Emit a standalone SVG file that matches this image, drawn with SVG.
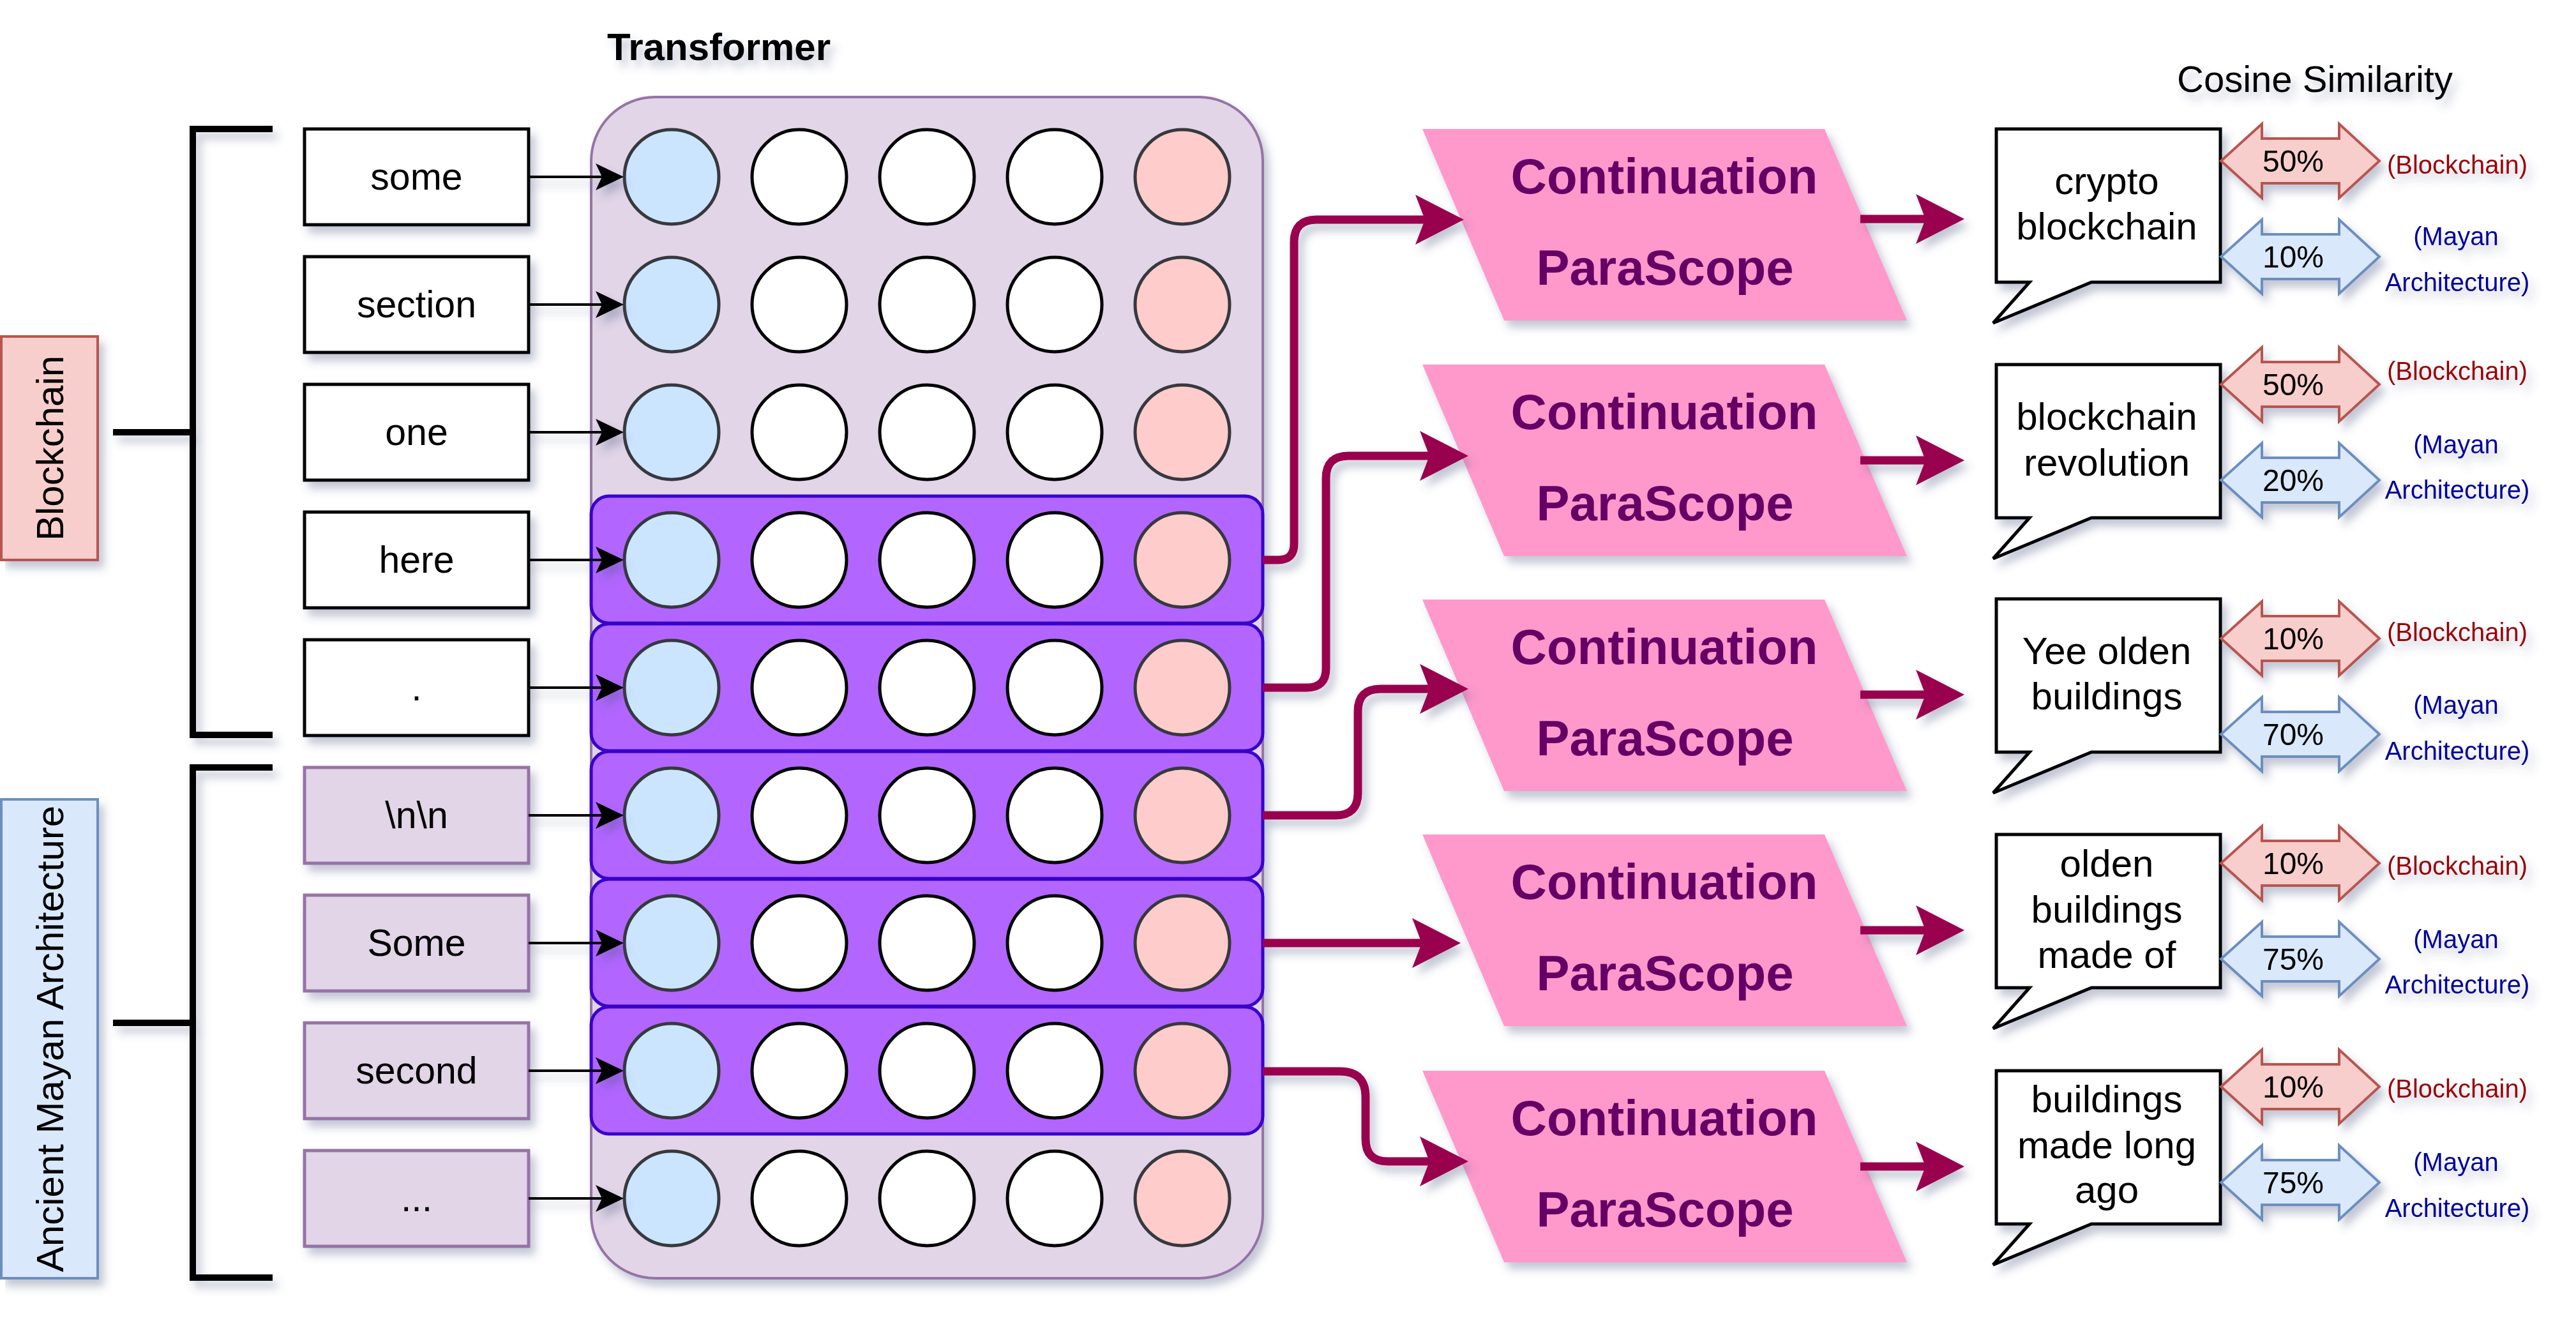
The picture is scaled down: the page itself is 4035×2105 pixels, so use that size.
<svg xmlns="http://www.w3.org/2000/svg" width="4035" height="2105" viewBox="0 0 4035 2105">
<style>
text{font-family:"Liberation Sans",Arial,Helvetica,sans-serif;}
.tok{font-size:59px;text-anchor:middle;fill:#000;}
.tw{fill:#fff;stroke:#000;stroke-width:5;}
.tl{fill:#e1d5e7;stroke:#9673a6;stroke-width:5;}
.brk{fill:none;stroke:#000;stroke-width:10;}
.cb{fill:#cce5ff;stroke:#36393d;stroke-width:5;}
.cw{fill:#fff;stroke:#000;stroke-width:5;}
.cr{fill:#ffcccc;stroke:#36393d;stroke-width:5;}
.prow{fill:#b266ff;stroke:#3700cc;stroke-width:5;}
.para{fill:#ff99cc;}
.pt{font-size:78px;font-weight:bold;fill:#660066;text-anchor:middle;}
.co{fill:#fff;stroke:#000;stroke-width:5;}
.ct{font-size:60px;text-anchor:middle;fill:#000;}
.dp{fill:#f8cecc;stroke:#b85450;stroke-width:4;}
.db{fill:#dae8fc;stroke:#6c8ebf;stroke-width:4;}
.pc{font-size:48px;text-anchor:middle;fill:#000;}
.lb{font-size:40px;text-anchor:middle;fill:#990000;}
.lm{font-size:40px;text-anchor:middle;fill:#000099;}
.mag{fill:none;stroke:#99004d;stroke-width:13;}
.blk{fill:none;stroke:#000;stroke-width:4;}
</style>
<defs>
<filter id="sh" filterUnits="userSpaceOnUse" x="0" y="0" width="4035" height="2105">
<feGaussianBlur in="SourceAlpha" stdDeviation="7"/>
<feOffset dx="8" dy="11" result="b"/>
<feFlood flood-color="#4a5680" flood-opacity="0.33"/>
<feComposite in2="b" operator="in"/>
<feMerge><feMergeNode/><feMergeNode in="SourceGraphic"/></feMerge>
</filter>
<marker id="am" markerUnits="userSpaceOnUse" markerWidth="80" markerHeight="80" refX="15" refY="0" orient="auto" overflow="visible"><path d="M0,-39 L76,0 L0,39 L15,0 Z" fill="#99004d"/></marker>
<marker id="ab" markerUnits="userSpaceOnUse" markerWidth="50" markerHeight="50" refX="10" refY="0" orient="auto" overflow="visible"><path d="M0,-21 L44,0 L0,21 L10,0 Z" fill="#000"/></marker>
<path id="dbl" d="M0,0 L64,-58 L64,-35 L185,-35 L185,-58 L248,0 L185,58 L185,35 L64,35 L64,58 Z"/>
</defs>
<rect width="4035" height="2105" fill="#fff"/>

<g filter="url(#sh)">
<text id="title-transformer" x="1126" y="94" style="font-size:60px;font-weight:bold;text-anchor:middle;">Transformer</text>
<text id="title-cosine" x="3626" y="144" style="font-size:58px;text-anchor:middle;">Cosine Similarity</text>

<g id="label-blockchain"><rect x="2" y="527" width="151" height="350" fill="#f8cecc" stroke="#b85450" stroke-width="4"/><text transform="translate(98.5,702) rotate(-90)" style="font-size:60px;text-anchor:middle;">Blockchain</text></g>
<g id="label-mayan"><rect x="2" y="1252" width="151" height="750" fill="#dae8fc" stroke="#6c8ebf" stroke-width="4"/><text transform="translate(98.5,1627) rotate(-90)" style="font-size:60px;text-anchor:middle;">Ancient Mayan Architecture</text></g>

<g id="bracket-blockchain"><path class="brk" d="M427,202 H302 V1151 H427 M177,677 H302"/></g>
<g id="bracket-mayan"><path class="brk" d="M427,1202 H302 V2001 H427 M177,1602 H302"/></g>

<g id="tok-some"><rect class="tw" x="477" y="202" width="351" height="150"/><text class="tok" x="652.5" y="297">some</text></g>
<g id="tok-section"><rect class="tw" x="477" y="402" width="351" height="150"/><text class="tok" x="652.5" y="497">section</text></g>
<g id="tok-one"><rect class="tw" x="477" y="602" width="351" height="150"/><text class="tok" x="652.5" y="697">one</text></g>
<g id="tok-here"><rect class="tw" x="477" y="802" width="351" height="150"/><text class="tok" x="652.5" y="897">here</text></g>
<g id="tok-dot"><rect class="tw" x="477" y="1002" width="351" height="150"/><text class="tok" x="652.5" y="1097">.</text></g>
<g id="tok-nn"><rect class="tl" x="477" y="1202" width="351" height="150"/><text class="tok" x="652.5" y="1297">\n\n</text></g>
<g id="tok-Some"><rect class="tl" x="477" y="1402" width="351" height="150"/><text class="tok" x="652.5" y="1497">Some</text></g>
<g id="tok-second"><rect class="tl" x="477" y="1602" width="351" height="150"/><text class="tok" x="652.5" y="1697">second</text></g>
<g id="tok-ellipsis"><rect class="tl" x="477" y="1802" width="351" height="150"/><text class="tok" x="652.5" y="1897">...</text></g>

<g id="transformer"><rect x="926" y="152" width="1052" height="1850" rx="100" ry="100" fill="#e1d5e7" stroke="#9673a6" stroke-width="4"/></g>
<g id="sel-rows">
<rect id="row-here" class="prow" x="926" y="777" width="1052" height="199" rx="28"/>
<rect id="row-dot" class="prow" x="926" y="977" width="1052" height="199" rx="28"/>
<rect id="row-nn" class="prow" x="926" y="1177" width="1052" height="199" rx="28"/>
<rect id="row-Some" class="prow" x="926" y="1377" width="1052" height="199" rx="28"/>
<rect id="row-second" class="prow" x="926" y="1577" width="1052" height="199" rx="28"/>
</g>
</g>

<g id="neurons">
<g id="r0"><circle class="cb" cx="1052" cy="277" r="74"/><circle class="cw" cx="1252" cy="277" r="74"/><circle class="cw" cx="1452" cy="277" r="74"/><circle class="cw" cx="1652" cy="277" r="74"/><circle class="cr" cx="1852" cy="277" r="74"/></g>
<g id="r1"><circle class="cb" cx="1052" cy="477" r="74"/><circle class="cw" cx="1252" cy="477" r="74"/><circle class="cw" cx="1452" cy="477" r="74"/><circle class="cw" cx="1652" cy="477" r="74"/><circle class="cr" cx="1852" cy="477" r="74"/></g>
<g id="r2"><circle class="cb" cx="1052" cy="677" r="74"/><circle class="cw" cx="1252" cy="677" r="74"/><circle class="cw" cx="1452" cy="677" r="74"/><circle class="cw" cx="1652" cy="677" r="74"/><circle class="cr" cx="1852" cy="677" r="74"/></g>
<g id="r3"><circle class="cb" cx="1052" cy="877" r="74"/><circle class="cw" cx="1252" cy="877" r="74"/><circle class="cw" cx="1452" cy="877" r="74"/><circle class="cw" cx="1652" cy="877" r="74"/><circle class="cr" cx="1852" cy="877" r="74"/></g>
<g id="r4"><circle class="cb" cx="1052" cy="1077" r="74"/><circle class="cw" cx="1252" cy="1077" r="74"/><circle class="cw" cx="1452" cy="1077" r="74"/><circle class="cw" cx="1652" cy="1077" r="74"/><circle class="cr" cx="1852" cy="1077" r="74"/></g>
<g id="r5"><circle class="cb" cx="1052" cy="1277" r="74"/><circle class="cw" cx="1252" cy="1277" r="74"/><circle class="cw" cx="1452" cy="1277" r="74"/><circle class="cw" cx="1652" cy="1277" r="74"/><circle class="cr" cx="1852" cy="1277" r="74"/></g>
<g id="r6"><circle class="cb" cx="1052" cy="1477" r="74"/><circle class="cw" cx="1252" cy="1477" r="74"/><circle class="cw" cx="1452" cy="1477" r="74"/><circle class="cw" cx="1652" cy="1477" r="74"/><circle class="cr" cx="1852" cy="1477" r="74"/></g>
<g id="r7"><circle class="cb" cx="1052" cy="1677" r="74"/><circle class="cw" cx="1252" cy="1677" r="74"/><circle class="cw" cx="1452" cy="1677" r="74"/><circle class="cw" cx="1652" cy="1677" r="74"/><circle class="cr" cx="1852" cy="1677" r="74"/></g>
<g id="r8"><circle class="cb" cx="1052" cy="1877" r="74"/><circle class="cw" cx="1252" cy="1877" r="74"/><circle class="cw" cx="1452" cy="1877" r="74"/><circle class="cw" cx="1652" cy="1877" r="74"/><circle class="cr" cx="1852" cy="1877" r="74"/></g>
</g>

<g filter="url(#sh)">
<g id="ps1"><polygon class="para" points="2228,202 2858,202 2987,502 2356,502"/><text class="pt" x="2607" y="303">Continuation</text><text class="pt" x="2608" y="446">ParaScope</text></g>
<g id="ps2"><polygon class="para" points="2228,571 2858,571 2987,871 2356,871"/><text class="pt" x="2607" y="672">Continuation</text><text class="pt" x="2608" y="815">ParaScope</text></g>
<g id="ps3"><polygon class="para" points="2228,939 2858,939 2987,1239 2356,1239"/><text class="pt" x="2607" y="1040">Continuation</text><text class="pt" x="2608" y="1183">ParaScope</text></g>
<g id="ps4"><polygon class="para" points="2228,1307 2858,1307 2987,1607 2356,1607"/><text class="pt" x="2607" y="1408">Continuation</text><text class="pt" x="2608" y="1551">ParaScope</text></g>
<g id="ps5"><polygon class="para" points="2228,1677 2858,1677 2987,1977 2356,1977"/><text class="pt" x="2607" y="1778">Continuation</text><text class="pt" x="2608" y="1921">ParaScope</text></g>

<g id="callout1"><path class="co" d="M3127,202 H3478 V442 H3276 L3122,506 L3179,442 H3127 Z"/><text class="ct" x="3300" y="304">crypto</text><text class="ct" x="3300" y="375">blockchain</text></g>
<g id="callout2"><path class="co" d="M3127,571 H3478 V811 H3276 L3122,875 L3179,811 H3127 Z"/><text class="ct" x="3300" y="673">blockchain</text><text class="ct" x="3300" y="745">revolution</text></g>
<g id="callout3"><path class="co" d="M3127,938 H3478 V1178 H3276 L3122,1242 L3179,1178 H3127 Z"/><text class="ct" x="3300" y="1040">Yee olden</text><text class="ct" x="3300" y="1111">buildings</text></g>
<g id="callout4"><path class="co" d="M3127,1307 H3478 V1547 H3276 L3122,1611 L3179,1547 H3127 Z"/><text class="ct" x="3300" y="1373">olden</text><text class="ct" x="3300" y="1445">buildings</text><text class="ct" x="3300" y="1516">made of</text></g>
<g id="callout5"><path class="co" d="M3127,1677 H3478 V1917 H3276 L3122,1981 L3179,1917 H3127 Z"/><text class="ct" x="3300" y="1742">buildings</text><text class="ct" x="3300" y="1814">made long</text><text class="ct" x="3300" y="1884">ago</text></g>

<g id="sim1"><use href="#dbl" class="dp" x="3479" y="252"/><text class="pc" x="3592" y="269">50%</text><use href="#dbl" class="db" x="3479" y="402"/><text class="pc" x="3592" y="419">10%</text><text class="lb" x="3849" y="272">(Blockchain)</text><text class="lm" x="3847" y="384">(Mayan</text><text class="lm" x="3849" y="456">Architecture)</text></g>
<g id="sim2"><use href="#dbl" class="dp" x="3479" y="602"/><text class="pc" x="3592" y="619">50%</text><use href="#dbl" class="db" x="3479" y="752"/><text class="pc" x="3592" y="769">20%</text><text class="lb" x="3849" y="595">(Blockchain)</text><text class="lm" x="3847" y="710">(Mayan</text><text class="lm" x="3849" y="781">Architecture)</text></g>
<g id="sim3"><use href="#dbl" class="dp" x="3479" y="1000"/><text class="pc" x="3592" y="1017">10%</text><use href="#dbl" class="db" x="3479" y="1150"/><text class="pc" x="3592" y="1167">70%</text><text class="lb" x="3849" y="1004">(Blockchain)</text><text class="lm" x="3847" y="1118">(Mayan</text><text class="lm" x="3849" y="1190">Architecture)</text></g>
<g id="sim4"><use href="#dbl" class="dp" x="3479" y="1352"/><text class="pc" x="3592" y="1369">10%</text><use href="#dbl" class="db" x="3479" y="1502"/><text class="pc" x="3592" y="1519">75%</text><text class="lb" x="3849" y="1370">(Blockchain)</text><text class="lm" x="3847" y="1485">(Mayan</text><text class="lm" x="3849" y="1556">Architecture)</text></g>
<g id="sim5"><use href="#dbl" class="dp" x="3479" y="1702"/><text class="pc" x="3592" y="1719">10%</text><use href="#dbl" class="db" x="3479" y="1852"/><text class="pc" x="3592" y="1869">75%</text><text class="lb" x="3849" y="1719">(Blockchain)</text><text class="lm" x="3847" y="1834">(Mayan</text><text class="lm" x="3849" y="1906">Architecture)</text></g>
</g>

<g id="connectors" filter="url(#sh)">
<path class="blk" marker-end="url(#ab)" d="M828,277 H943"/>
<path class="blk" marker-end="url(#ab)" d="M828,477 H943"/>
<path class="blk" marker-end="url(#ab)" d="M828,677 H943"/>
<path class="blk" marker-end="url(#ab)" d="M828,877 H943"/>
<path class="blk" marker-end="url(#ab)" d="M828,1077 H943"/>
<path class="blk" marker-end="url(#ab)" d="M828,1277 H943"/>
<path class="blk" marker-end="url(#ab)" d="M828,1477 H943"/>
<path class="blk" marker-end="url(#ab)" d="M828,1677 H943"/>
<path class="blk" marker-end="url(#ab)" d="M828,1877 H943"/>
<path class="mag" marker-end="url(#am)" d="M1978,877 H2002 Q2027,877 2027,852 V379 Q2027,344 2062,344 H2232"/>
<path class="mag" marker-end="url(#am)" d="M1978,1077 H2047 Q2077,1077 2077,1047 V749 Q2077,714 2112,714 H2239"/>
<path class="mag" marker-end="url(#am)" d="M1978,1277 H2092 Q2127,1277 2127,1242 V1114 Q2127,1079 2162,1079 H2239"/>
<path class="mag" marker-end="url(#am)" d="M1978,1477 H2227"/>
<path class="mag" marker-end="url(#am)" d="M1978,1678 H2099 Q2139,1678 2139,1718 V1784 Q2139,1819 2174,1819 H2239"/>
<path class="mag" marker-end="url(#am)" d="M2914,343 H3016"/>
<path class="mag" marker-end="url(#am)" d="M2914,721 H3016"/>
<path class="mag" marker-end="url(#am)" d="M2914,1088 H3016"/>
<path class="mag" marker-end="url(#am)" d="M2914,1457 H3016"/>
<path class="mag" marker-end="url(#am)" d="M2914,1827 H3016"/>
</g>
</svg>
